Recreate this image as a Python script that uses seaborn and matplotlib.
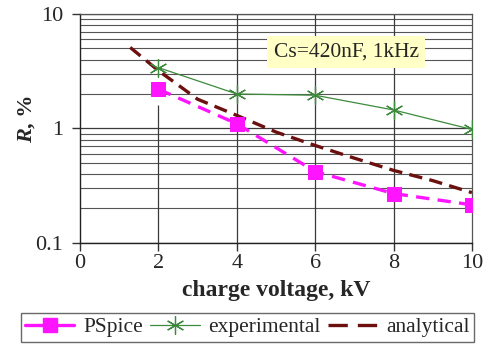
import numpy as np
import pandas as pd
import matplotlib
matplotlib.use("Agg")
import matplotlib.pyplot as plt
from matplotlib.ticker import LogLocator, FixedLocator, NullFormatter
from matplotlib.font_manager import FontProperties
from matplotlib.lines import Line2D
import seaborn as sns

# Loss ratio R (%) versus charge voltage (kV)
voltage = [2, 4, 6, 8, 10]
pspice = [2.2, 1.1, 0.42, 0.27, 0.215]
experimental = [3.4, 2.0, 1.95, 1.45, 0.98]

analytic_v = [1.28, 2, 3, 4, 5, 6, 7, 8, 9, 10]
analytic_r = [5.1, 3.2, 1.8, 1.3, 0.93, 0.71, 0.55, 0.43, 0.35, 0.275]

x_ticks = [0, 2, 4, 6, 8, 10]
y_ticks = [0.1, 1, 10]
y_tick_labels = ["0.1", "1", "10"]

C_SIM = "#ff14ff"
C_EXP = "#3d8a3d"
C_AN = "#6b0f0f"

sns.set_style("white")
SERIF = ["Liberation Serif", "DejaVu Serif"]
plt.rcParams["font.family"] = SERIF

fig = plt.figure(figsize=(4.85, 3.49), dpi=100)
ax = fig.add_axes([0.165, 0.304, 0.808, 0.656])

df_sim = pd.DataFrame({"V": voltage, "R": pspice})
df_exp = pd.DataFrame({"V": voltage, "R": experimental})
df_an = pd.DataFrame({"V": analytic_v, "R": analytic_r})

ax.set_yscale("log")
ax.set_xlim(0, 10)
ax.set_ylim(0.1, 10)

# grid
ax.yaxis.set_major_locator(FixedLocator(y_ticks))
ax.yaxis.set_minor_locator(LogLocator(base=10, subs=np.arange(2, 10)))
ax.yaxis.set_minor_formatter(NullFormatter())
ax.set_yticklabels(y_tick_labels)
ax.grid(which="major", axis="y", color="#3a3a3a", linewidth=0.9)
ax.grid(which="minor", axis="y", color="#555555", linewidth=0.8)
ax.vlines([4, 6, 8], 0.1, 10, color="#3a3a3a", linewidth=0.9, zorder=1)
ax.vlines([2], 0.1, 1.6, color="#3a3a3a", linewidth=0.9, zorder=1)
ax.set_axisbelow(True)

sns.lineplot(data=df_an, x="V", y="R", ax=ax, color=C_AN, linewidth=2.4,
             linestyle=(0, (4.0, 2.2)), legend=False, zorder=3)
sns.lineplot(data=df_exp, x="V", y="R", ax=ax, color=C_EXP, linewidth=0.9,
             marker=(6, 2, 0), markersize=13, markeredgewidth=0.9,
             markeredgecolor=C_EXP, legend=False, zorder=4)
sns.lineplot(data=df_sim, x="V", y="R", ax=ax, color=C_SIM, linewidth=2.4,
             linestyle=(0, (4.0, 2.5)), marker="s", markersize=10,
             markeredgecolor=C_SIM, legend=False, zorder=5)

ax.set_xticks(x_ticks)
ax.set_xticklabels([str(t) for t in x_ticks])
ax.tick_params(axis="both", which="major", labelsize=16, length=6, width=1.0,
               color="#333333", direction="out", left=True, bottom=True)
ax.tick_params(axis="y", which="minor", length=0)
ax.tick_params(axis="x", pad=2)
ax.tick_params(axis="y", pad=6)

for side in ["left", "bottom"]:
    ax.spines[side].set_color("#222222")
    ax.spines[side].set_linewidth(1.0)
for side in ["top", "right"]:
    ax.spines[side].set_color("#555555")
    ax.spines[side].set_linewidth(0.9)

ax.set_xlabel("charge voltage, kV", fontsize=17, fontweight="bold", labelpad=5)
ax.set_ylabel("")

# y-axis title: italic R followed by ", %"
ylab_x = (27 - 80) / 392
ax.text(ylab_x, 0.5, ", %", transform=ax.transAxes, rotation=90, fontsize=16,
        fontweight="bold", ha="center", va="bottom")
ax.text(ylab_x, 0.5, "R", transform=ax.transAxes, rotation=90, fontsize=16,
        fontweight="bold", fontstyle="italic", ha="center", va="top")

ax.text(0.679, 0.834, "Cs=420nF, 1kHz", transform=ax.transAxes, fontsize=15.5,
        ha="center", va="center", zorder=6,
        bbox=dict(boxstyle="square,pad=0.3", facecolor="#ffffc6", edgecolor="none"))

# legend keys
keys = [
    Line2D([], [], color=C_SIM, linewidth=2.4, marker="s", markersize=10,
           markeredgecolor=C_SIM),
    Line2D([], [], color=C_EXP, linewidth=0.9, marker=(6, 2, 0), markersize=13,
           markeredgewidth=0.9, markeredgecolor=C_EXP),
    Line2D([], [], color=C_AN, linewidth=2.4, linestyle=(0, (5.8, 3.0))),
]
leg = fig.legend(keys, ["PSpice", "experimental", "analytical"],
                 loc="upper center", bbox_to_anchor=(0.51, 0.103), ncol=3,
                 prop=FontProperties(family=SERIF, size=15.5),
                 frameon=True, fancybox=False, handlelength=2.3,
                 handletextpad=0.4, columnspacing=0.35, borderpad=0.2,
                 borderaxespad=0)
leg.get_frame().set_edgecolor("#444444")
leg.get_frame().set_linewidth(1.0)

fig.savefig("out.png", dpi=100)
